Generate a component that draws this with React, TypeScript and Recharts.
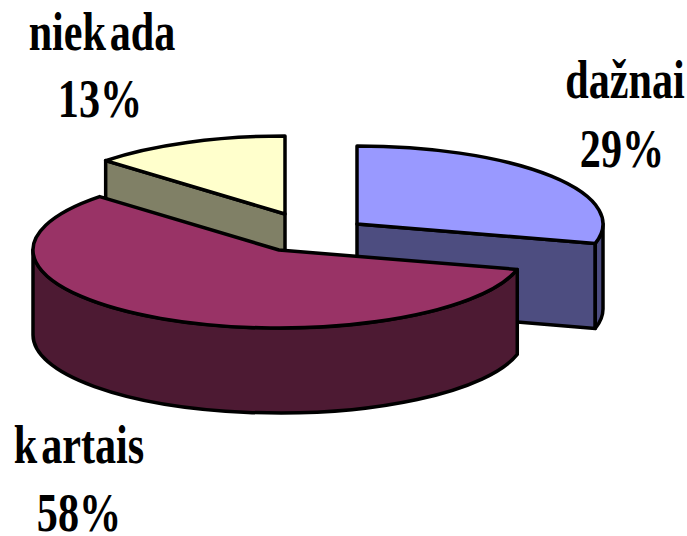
import { Pie, PieChart } from "recharts";

const categories = ["niekada", "dažnai", "kartais"];
const shares = [13, 29, 58];

const tops = ["#FFFFCC", "#9999FF", "#993366"];
const walls = ["#808066", "#4D4D80", "#4D1A33"];
// explode offset of each slice from the pie centre
const shiftX = [-15, 57, -21];
const shiftY = [-16, -6, 20];
const nameX = [102, 625, 79];
const nameY = [50, 98, 463];
const pctX = [100, 622, 79];
const pctY = [117, 167, 531];

const chartData = categories.map((name, i) => ({ name, value: shares[i] }));

const SQUASH = 78 / 246;
const DEPTH = 85;
const RAD = Math.PI / 180;

// clockwise angle from 12 o'clock -> point on the squashed disc
function pt(cx: number, cy: number, r: number, theta: number, drop = 0) {
  return [
    cx + r * Math.sin(theta * RAD),
    cy - r * SQUASH * Math.cos(theta * RAD) + drop,
  ];
}

function arcPath(cx: number, cy: number, r: number, from: number, to: number, drop = 0) {
  const [x, y] = pt(cx, cy, r, to, drop);
  const large = to - from > 180 ? 1 : 0;
  return `A ${r} ${r * SQUASH} 0 ${large} 1 ${x} ${y}`;
}

function Slice(props: any) {
  const i = props.index;
  const r = props.outerRadius;
  const cx = props.cx + shiftX[i];
  const cy = props.cy + shiftY[i];
  const a = 90 - props.startAngle;
  const b = 90 - props.endAngle;
  const [ax, ay] = pt(cx, cy, r, a);
  const [bx, by] = pt(cx, cy, r, b);
  const line = { stroke: "#000", strokeWidth: 3.5, strokeLinejoin: "round" as const };

  const face = (x: number, y: number) =>
    `M ${cx} ${cy} L ${x} ${y} L ${x} ${y + DEPTH} L ${cx} ${cy + DEPTH} Z`;

  const from = Math.max(a, 90);
  const to = Math.min(b, 270);
  const [wx, wy] = pt(cx, cy, r, from);
  const [vx, vy] = pt(cx, cy, r, to);

  return (
    <g>
      {Math.sin(a * RAD) < -0.01 && <path d={face(ax, ay)} fill={walls[i]} {...line} />}
      {Math.sin(b * RAD) > 0.01 && <path d={face(bx, by)} fill={walls[i]} {...line} />}
      {to > from && (
        <path
          d={`M ${wx} ${wy} ${arcPath(cx, cy, r, from, to)} L ${vx} ${vy + DEPTH} A ${r} ${r * SQUASH} 0 ${to - from > 180 ? 1 : 0} 0 ${wx} ${wy + DEPTH} Z`}
          fill={walls[i]}
          {...line}
        />
      )}
      <path
        d={`M ${cx} ${cy} L ${ax} ${ay} ${arcPath(cx, cy, r, a, b)} Z`}
        fill={tops[i]}
        {...line}
      />
    </g>
  );
}

function SliceLabel(props: any) {
  const i = props.index;
  const textStyle = {
    fontFamily: "'Liberation Serif', serif",
    fontWeight: 700,
    fontSize: 43,
    fill: "#000",
  };
  // the type in the reference is stretched vertically, with a gap after the k
  const at = (x: number, y: number) => `translate(${x} ${y}) scale(0.98 1.27)`;
  const cut = categories[i].indexOf("k") + 1;
  return (
    <g>
      <text transform={at(nameX[i], nameY[i])} textAnchor="middle" style={textStyle}>
        <tspan>{categories[i].slice(0, cut)}</tspan>
        <tspan dx={cut ? 4 : 0}>{categories[i].slice(cut)}</tspan>
      </text>
      <text transform={at(pctX[i], pctY[i])} textAnchor="middle" style={textStyle}>
        {shares[i]}%
      </text>
    </g>
  );
}

export default function App() {
  return (
    <div style={{ position: "absolute", left: 0, top: 0 }}>
      <PieChart width={687} height={536} margin={{ top: 0, right: 0, bottom: 0, left: 0 }}>
        <Pie
          data={chartData}
          dataKey="value"
          nameKey="name"
          cx={300}
          cy={230}
          outerRadius={246}
          startAngle={90 + (360 * shares[0]) / 100}
          endAngle={90 + (360 * shares[0]) / 100 - 360}
          shape={Slice}
          label={SliceLabel}
          labelLine={false}
          isAnimationActive={false}
        />
      </PieChart>
    </div>
  );
}
